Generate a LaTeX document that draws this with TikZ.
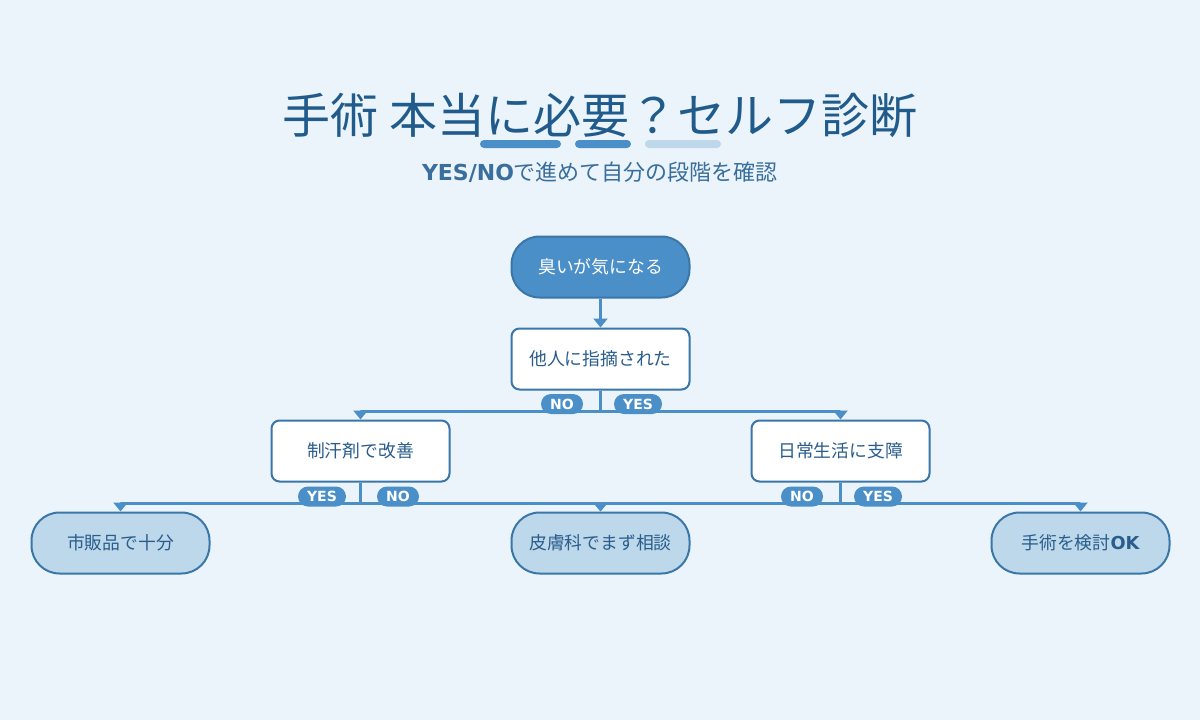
\documentclass[tikz,border=0pt]{standalone}
\usepackage{fontspec}
\usetikzlibrary{arrows.meta}
\setmainfont{Noto Sans CJK JP}
\newfontfamily\dvs{DejaVu Sans}
\definecolor{bg}{HTML}{EAF4FA}
\definecolor{ttl}{HTML}{215B8C}
\definecolor{sub}{HTML}{3A6E9C}
\definecolor{mid}{HTML}{4A8FC8}
\definecolor{boxline}{HTML}{3A76A8}
\definecolor{light}{HTML}{BCD8EA}
\definecolor{txt}{HTML}{2A5D8C}
\begin{document}
\begin{tikzpicture}[x=1pt,y=-1pt,
  base/.style={draw=boxline, line width=2pt, minimum width=178pt, minimum height=61pt, inner sep=0pt, font=\fontsize{17.8}{20}\selectfont},
  startbox/.style={base, rounded corners=28pt, fill=mid, text=white},
  qbox/.style={base, rounded corners=8pt, fill=white, text=txt},
  leaf/.style={base, rounded corners=28pt, fill=light, text=txt},
  conn/.style={draw=mid, line width=3pt},
  arr/.style={conn, -{Triangle[width=14pt,length=9pt]}},
  tag/.style={fill=mid, text=white, rounded corners=10pt, minimum height=20pt, inner sep=0pt, font=\dvs\bfseries\fontsize{14}{14}\selectfont},
  bar/.style={rounded corners=4pt}
]
\fill[bg] (0,0) rectangle (1200,720);
\useasboundingbox (0,0) rectangle (1200,720);

\node[anchor=base, text=ttl, font=\fontsize{48}{52}\selectfont] (title) at (600,133) {手術 本当に必要？セルフ診断};
\fill[mid,bar] (480,140) rectangle (561,148);
\fill[mid,bar] (575,140) rectangle (631,148);
\fill[light,bar] (645,140) rectangle (721,148);
\node[anchor=base, text=sub, font=\fontsize{22}{24}\selectfont] (subtitle) at (600,180) {{\dvs\bfseries YES/NO}で進めて自分の段階を確認};

\node[startbox] (n1) at (600.5,267) {臭いが気になる};
\node[qbox] (n2) at (600.5,359) {他人に指摘された};
\node[qbox] (n3) at (360.5,451) {制汗剤で改善};
\node[qbox] (n4) at (840.5,451) {日常生活に支障};
\node[leaf] (l1) at (120.5,543) {市販品で十分};
\node[leaf] (l2) at (600.5,543) {皮膚科でまず相談};
\node[leaf] (l3) at (1080.5,543) {手術を検討{\dvs\bfseries OK}};

\draw[arr] (n1) -- (n2);
\draw[conn] (n2.south) -- ++(0,21) coordinate (j1);
\draw[arr] (j1) -| (n3.north);
\draw[arr] (j1) -| (n4.north);
\draw[conn] (n3.south) -- ++(0,21) coordinate (j2);
\draw[arr] (j2) -| (l1.north);
\draw[arr] (j2) -| (l2.north);
\draw[conn] (n4.south) -- ++(0,21) coordinate (j3);
\draw[arr] (j3) -| (l2.north);
\draw[arr] (j3) -| (l3.north);

\node[tag, minimum width=42pt] (t1) at (562,404) {NO};
\node[tag, minimum width=48pt] (t2) at (638,404) {YES};
\node[tag, minimum width=48pt] (t3) at (322,496.5) {YES};
\node[tag, minimum width=42pt] (t4) at (398,496.5) {NO};
\node[tag, minimum width=42pt] (t5) at (802,496.5) {NO};
\node[tag, minimum width=48pt] (t6) at (878,496.5) {YES};
\end{tikzpicture}
\end{document}
